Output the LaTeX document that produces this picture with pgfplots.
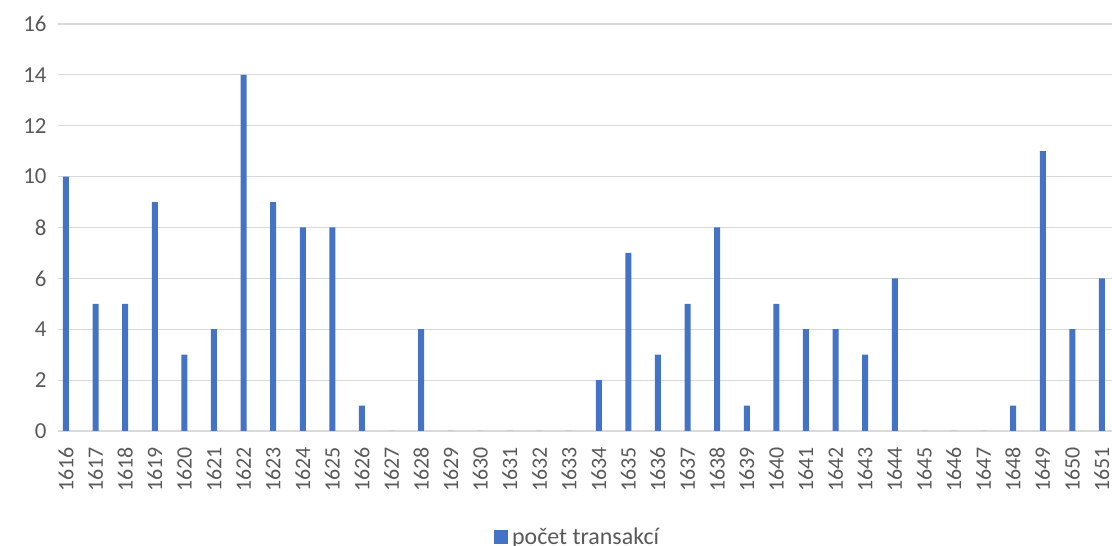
\documentclass[border=0pt]{standalone}
\usepackage{pgfplots}
\pgfplotsset{compat=1.18}
\usepackage{fontspec}
\setmainfont{Carlito}
\definecolor{barblue}{HTML}{4472C4}
\definecolor{gridgray}{HTML}{D9D9D9}
\definecolor{txtgray}{HTML}{595959}
\begin{document}
\begin{tikzpicture}
\begin{axis}[
  scale only axis,
  width=1054bp, height=407bp,
  xmin=1615.73, xmax=1651.34,
  ymin=0, ymax=16,
  ytick={0,2,...,16},
  xtick={1616,...,1651},
  ybar, bar width=6bp,
  axis lines*=left,
  y axis line style={draw=none},
  x axis line style={draw=gridgray, line width=1.2bp},
  ymajorgrids, grid style={gridgray, line width=1.2bp},
  major tick length=0pt,
  /pgf/number format/assume math mode=true,
  /pgf/number format/set thousands separator={},
  tick label style={font=\fontsize{23}{27}\selectfont, text=txtgray},
  yticklabel style={xshift=-8bp},
  xticklabel style={rotate=90, anchor=east, xshift=-13bp, font=\fontsize{22}{26}\selectfont},
  legend style={at={(0.493,-0.26)}, anchor=center, draw=none,
    font=\fontsize{24}{28}\selectfont, text=txtgray},
  legend image code/.code={\fill[barblue] (0bp,-7bp) rectangle (14bp,7bp);},
]
\addplot[fill=barblue, draw=none] coordinates {
(1616,10) (1617,5) (1618,5) (1619,9) (1620,3) (1621,4) (1622,14) (1623,9)
(1624,8) (1625,8) (1626,1) (1627,0) (1628,4) (1629,0) (1630,0) (1631,0)
(1632,0) (1633,0) (1634,2) (1635,7) (1636,3) (1637,5) (1638,8) (1639,1)
(1640,5) (1641,4) (1642,4) (1643,3) (1644,6) (1645,0) (1646,0) (1647,0)
(1648,1) (1649,11) (1650,4) (1651,6)
};
\legend{\hspace{2bp}počet transakcí}
\end{axis}
\pgfresetboundingbox
\path[use as bounding box] ([xshift=-58bp,yshift=-115bp]current axis.south west) rectangle ([yshift=24bp]current axis.north east);
\end{tikzpicture}
\end{document}
